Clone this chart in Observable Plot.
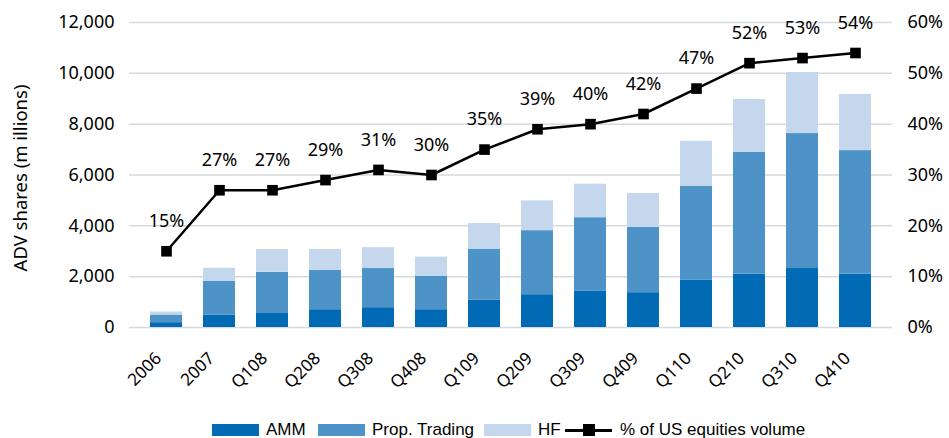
<!DOCTYPE html>
<html>
<head>
<meta charset="utf-8">
<script src="https://cdn.jsdelivr.net/npm/d3@7"></script>
<script src="https://cdn.jsdelivr.net/npm/@observablehq/plot@0.6"></script>
<style>
  html, body { margin: 0; padding: 0; background: #fff; overflow: hidden; }
  #chart svg { display: block; }
  .legend { position: relative; height: 20px; margin-top: 20px; font-family: "Liberation Sans", Arial, sans-serif; font-size: 17px; color: #000; }
  .legend .item { position: absolute; top: 0; display: flex; align-items: center; height: 20px; white-space: nowrap; }
  .legend .sw { width: 47px; height: 12px; margin-right: 7px; }
  .legend .ln { width: 47px; height: 12px; margin-right: 8px; position: relative; }
  .legend .ln::before { content: ""; position: absolute; left: 0; right: 0; top: 4.5px; height: 3px; background: #000; }
  .legend .ln::after { content: ""; position: absolute; left: 18px; top: 0; width: 12px; height: 12px; background: #000; }
</style>
</head>
<body>
<div id="chart"></div>
<div class="legend" id="legend"></div>
<script>
const categories = ["2006","2007","Q108","Q208","Q308","Q408","Q109","Q209","Q309","Q409","Q110","Q210","Q310","Q410"];
const ammValues  = [190, 490, 550, 700, 780, 700, 1070, 1290, 1440, 1370, 1870, 2100, 2320, 2100];
const propValues = [300, 1320, 1620, 1550, 1540, 1320, 2000, 2520, 2880, 2570, 3690, 4800, 5310, 4860];
const hfValues   = [120, 520, 900, 820, 820, 750, 1020, 1170, 1320, 1330, 1770, 2070, 2400, 2210];
const pctValues  = [15, 27, 27, 29, 31, 30, 35, 39, 40, 42, 47, 52, 53, 54];
const seriesNames = ["AMM", "Prop. Trading", "HF"];
const lineName = "% of US equities volume";
const yTitle = "ADV shares (m illions)";
const leftTicks = [0, 2000, 4000, 6000, 8000, 10000, 12000];
const rightTicks = [0, 10, 20, 30, 40, 50, 60];
const colors = ["#006AB4", "#4E93C8", "#C4D7EC"];
const legendLeft = [212, 318, 484, 565];

const PCT_SCALE = 12000 / 60;

const barData = [];
categories.forEach((c, i) => {
  barData.push({cat: c, series: seriesNames[0], value: ammValues[i]});
  barData.push({cat: c, series: seriesNames[1], value: propValues[i]});
  barData.push({cat: c, series: seriesNames[2], value: hfValues[i]});
});
const lineData = categories.map((c, i) => ({cat: c, pct: pctValues[i]}));

const chart = Plot.plot({
  width: 949,
  height: 400,
  marginLeft: 129,
  marginRight: 57,
  marginTop: 22,
  marginBottom: 73,
  style: {fontFamily: "'Noto Sans', sans-serif", fontSize: "17px", color: "#000", background: "#fff"},
  x: {domain: categories, padding: 0.39},
  y: {domain: [0, 12000]},
  color: {domain: seriesNames, range: colors},
  marks: [
    Plot.ruleY(leftTicks, {stroke: "#d6d9de", strokeWidth: 1.5}),
    Plot.barY(barData, {x: "cat", y: "value", fill: "series", order: seriesNames}),
    Plot.line(lineData, {x: "cat", y: d => d.pct * PCT_SCALE, stroke: "#000", strokeWidth: 2.5}),
    Plot.dot(lineData, {x: "cat", y: d => d.pct * PCT_SCALE, symbol: "square", r: 6, fill: "#000"}),
    Plot.text(lineData, {x: "cat", y: d => d.pct * PCT_SCALE, text: d => d.pct + "%", dy: -30, fontSize: 18, fill: "#000"}),
    Plot.axisY({anchor: "left", ticks: leftTicks, tickFormat: d3.format(","), tickSize: 0, tickPadding: 15, fontSize: 18, label: null}),
    Plot.text([yTitle], {frameAnchor: "left", textAnchor: "middle", rotate: -90, dx: -108, dy: 3, fontSize: 18.5, fill: "#000"}),
    Plot.axisY({anchor: "right", ticks: rightTicks.map(t => t * PCT_SCALE), tickFormat: d => (d / PCT_SCALE) + "%", tickSize: 0, tickPadding: 15, fontSize: 18, label: null}),
    Plot.axisX({tickRotate: -45, tickSize: 0, tickPadding: 28, dx: -8, fontSize: 17, label: null})
  ]
});
document.getElementById("chart").appendChild(chart);

const legend = document.getElementById("legend");
seriesNames.forEach((name, i) => {
  const item = document.createElement("div");
  item.className = "item";
  item.style.left = legendLeft[i] + "px";
  const sw = document.createElement("div");
  sw.className = "sw";
  sw.style.background = colors[i];
  const t = document.createElement("span");
  t.textContent = name;
  item.appendChild(sw); item.appendChild(t);
  legend.appendChild(item);
});
const li = document.createElement("div");
li.className = "item";
li.style.left = legendLeft[3] + "px";
const ln = document.createElement("div");
ln.className = "ln";
const lt = document.createElement("span");
lt.textContent = lineName;
li.appendChild(ln); li.appendChild(lt);
legend.appendChild(li);
</script>
</body>
</html>
